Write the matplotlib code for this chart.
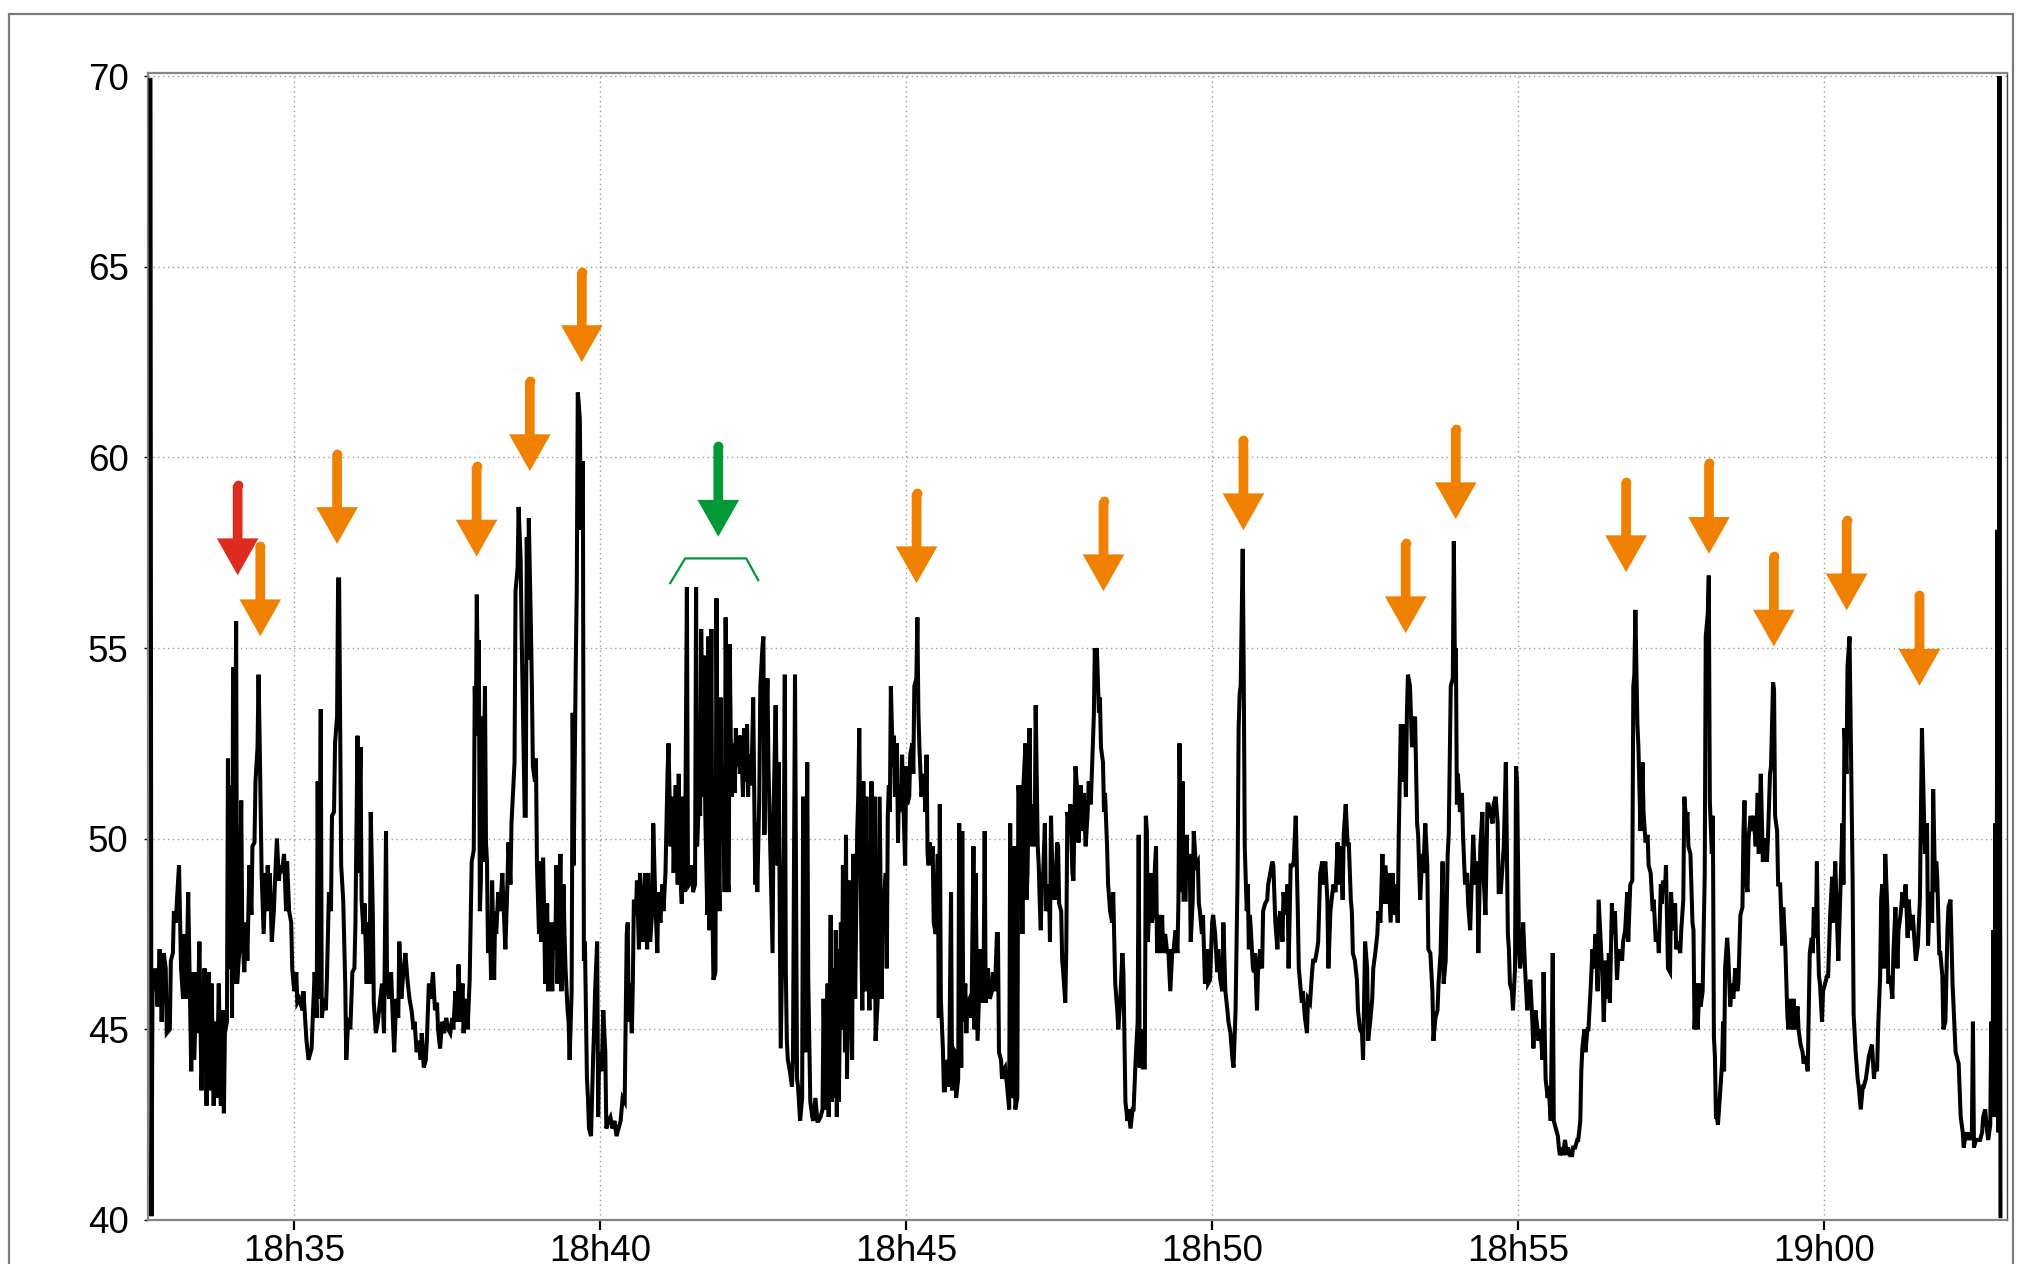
"""
Niveau sonore mesuré de 18h32 à 19h03, avec les pics repérés par des flèches.
"""

import matplotlib
matplotlib.use("Agg")
import matplotlib.pyplot as plt
import matplotlib.dates as mdates
from matplotlib.patches import Rectangle
from datetime import datetime

# relevés : (secondes après 18h30, niveau)
seg_a = [(159, 69.9), (160, 40.1), (161, 46.0), (164, 46.6), (166, 45.6), (168, 47.1), (170, 45.2), (172, 47.0),
         (174, 46.6), (175, 44.9), (178, 45.0), (179, 46.8), (181, 47.0), (182, 48.1), (184, 47.8), (185, 48.4),
         (187, 49.3), (189, 46.6), (191, 45.8), (192, 47.5), (194, 45.8), (196, 48.6), (197, 47.0), (199, 43.9),
         (200, 46.5), (202, 44.2), (204, 46.5), (205, 44.9), (207, 47.3), (209, 43.4), (211, 45.3), (212, 46.6),
         (214, 43.0), (216, 46.5), (217, 43.4), (219, 46.2), (221, 43.0), (222, 44.4), (223, 45.2), (224, 43.2),
         (226, 46.2), (228, 43.0), (230, 45.5), (231, 42.8), (232, 44.9), (234, 45.2), (235, 52.1), (236, 46.6),
         (238, 51.4), (239, 45.3), (240, 54.5), (241, 46.2), (243, 55.7), (244, 46.2), (246, 47.0), (248, 51.0),
         (249, 47.6), (251, 46.5), (253, 47.8), (254, 46.8), (256, 49.3), (258, 48.0), (259, 49.8), (261, 49.9),
         (262, 51.5), (264, 52.4), (265, 54.3), (266, 52.7), (268, 49.1), (269, 48.3), (270, 47.5), (272, 49.1),
         (273, 48.1), (274, 49.3), (275, 48.4), (276, 49.1), (278, 47.3), (280, 48.1), (281, 48.8), (283, 50.0),
         (285, 48.9), (286, 49.3), (288, 49.1), (290, 49.6), (292, 48.1), (293, 49.4), (295, 48.1), (297, 47.8),
         (298, 46.6), (300, 46.0), (302, 46.5), (303, 45.7), (305, 45.8), (308, 45.5), (309, 46.0), (312, 44.7),
         (314, 44.2), (317, 44.5), (318, 45.2), (320, 46.5), (322, 45.3), (323, 51.5), (324, 45.8), (326, 53.4),
         (327, 45.3), (329, 45.8), (331, 45.5), (332, 46.3), (334, 48.6), (336, 48.1), (337, 50.6), (339, 50.7),
         (340, 52.5), (342, 53.2), (343, 56.8), (344, 56.8), (346, 49.3), (348, 48.4), (350, 46.2), (351, 44.2),
         (353, 45.3), (355, 45.0), (357, 46.5), (359, 46.6), (360, 47.8), (362, 52.7), (363, 49.1), (365, 52.4),
         (366, 48.4), (368, 47.5), (369, 48.3), (371, 46.2), (372, 47.8), (374, 46.2), (375, 50.7), (377, 48.1),
         (378, 45.7), (380, 44.9), (382, 45.2), (384, 45.7), (386, 46.2), (388, 44.9), (390, 50.2), (391, 46.2),
         (393, 45.8), (395, 46.5), (396, 45.7), (398, 44.4), (400, 45.8), (402, 45.3), (403, 47.3), (405, 45.8),
         (407, 46.5), (409, 47.0), (411, 46.3), (413, 45.8), (415, 45.5), (417, 45.0), (418, 45.2), (420, 44.4),
         (422, 44.7), (424, 44.2), (425, 44.9), (427, 44.0), (429, 44.2), (430, 44.7), (432, 46.2), (434, 45.8),
         (436, 46.5), (438, 45.5), (440, 45.7), (441, 45.0), (443, 44.5), (445, 45.2), (447, 44.9), (449, 45.3),
         (451, 45.0)]

seg_b = [(453, 44.9), (455, 45.3), (456, 45.0), (458, 46.0), (460, 45.2), (461, 46.7), (463, 45.2), (465, 46.2),
         (466, 44.9), (468, 45.8), (470, 45.0), (472, 46.3), (474, 49.4), (476, 49.7), (477, 54.0), (478, 52.7),
         (479, 56.4), (480, 54.0), (481, 55.2), (482, 48.1), (483, 48.9), (484, 53.2), (485, 49.4), (487, 54.0),
         (488, 49.9), (489, 49.4), (490, 47.0), (492, 47.6), (493, 46.3), (494, 48.9), (496, 46.3), (497, 48.1),
         (498, 47.5), (500, 48.6), (502, 48.1), (504, 49.1), (505, 48.4), (507, 47.1), (509, 48.8), (510, 49.9),
         (512, 48.8), (513, 50.4), (515, 51.5), (516, 52.0), (517, 56.5), (519, 57.1), (520, 58.7), (522, 57.3),
         (523, 55.3), (524, 53.7), (526, 50.6), (527, 50.6), (528, 57.9), (529, 54.7), (530, 58.4), (532, 55.6),
         (533, 54.0), (534, 51.9), (536, 51.5), (537, 52.1), (538, 49.3), (540, 47.5), (541, 49.4), (542, 47.3),
         (544, 49.5), (545, 48.1), (546, 46.2), (548, 48.3), (549, 46.0), (550, 47.8), (552, 47.0), (553, 46.0),
         (554, 47.8), (556, 47.1), (557, 49.3), (558, 46.2), (560, 47.8), (561, 49.6), (562, 46.0), (564, 48.8),
         (565, 47.5), (566, 46.6), (568, 45.5), (569, 45.2), (570, 44.2), (572, 46.0), (573, 53.3), (574, 49.3),
         (576, 54.5), (577, 56.5), (578, 61.7), (579, 61.4), (580, 61.0), (581, 58.1), (583, 59.9), (584, 46.8),
         (585, 47.3), (587, 43.7), (588, 43.2), (589, 42.4), (591, 42.2), (593, 44.2), (594, 45.0), (595, 46.0),
         (597, 47.3), (598, 42.7), (599, 44.4), (601, 43.9), (602, 44.4), (603, 45.5), (605, 44.4), (606, 42.4),
         (608, 42.6), (610, 42.7), (612, 42.4), (614, 42.6), (616, 42.2), (618, 42.4), (620, 42.6), (622, 43.2),
         (624, 43.1), (626, 47.5), (627, 47.8), (628, 45.2), (629, 46.2), (631, 44.9), (632, 46.2), (633, 48.4),
         (635, 48.0), (636, 48.9), (638, 47.1), (639, 49.1), (641, 48.0), (642, 47.3), (644, 49.1), (646, 47.1),
         (647, 49.1), (649, 47.3), (651, 48.1), (652, 50.4), (654, 48.4), (656, 47.0), (657, 48.6), (659, 47.8),
         (661, 48.8), (662, 48.1), (664, 49.1), (666, 51.7), (667, 52.5), (669, 49.8), (671, 51.1), (672, 49.1),
         (674, 51.4), (676, 48.8), (677, 51.7), (678, 49.4), (680, 48.3), (681, 51.1), (683, 48.6), (685, 56.6),
         (686, 49.3), (687, 48.8), (689, 48.9), (690, 49.3), (691, 48.6), (693, 48.8), (694, 56.6), (695, 49.8),
         (697, 51.2), (698, 50.6), (699, 55.5), (701, 51.1), (702, 54.8), (703, 50.7), (705, 48.0), (706, 55.3),
         (707, 47.6), (709, 55.5), (710, 48.3), (711, 46.3), (713, 46.5), (714, 56.3), (715, 51.1), (717, 48.1),
         (718, 53.7), (719, 49.9), (721, 51.1), (722, 48.6), (723, 55.8), (725, 48.9), (726, 48.6), (727, 55.1),
         (728, 52.7), (729, 51.1), (730, 52.5), (732, 51.2), (733, 52.9), (734, 51.9), (736, 52.7), (737, 51.7),
         (738, 52.7), (740, 51.1), (741, 52.9), (742, 51.5), (744, 53.0), (745, 51.1), (746, 52.2), (748, 51.4),
         (749, 52.4), (750, 53.7), (752, 48.8), (753, 50.4), (754, 48.6), (756, 51.1)]

seg_c = [(757, 54.0), (759, 55.0), (760, 55.3), (761, 50.1), (762, 52.4), (764, 54.2), (765, 51.9), (767, 49.4),
         (769, 47.0), (770, 50.7), (772, 53.5), (774, 49.3), (775, 52.0), (777, 44.5), (779, 48.1), (780, 49.8),
         (781, 54.3), (782, 46.5), (783, 44.7), (784, 44.2), (786, 43.9), (788, 43.5), (789, 44.2), (791, 54.3),
         (793, 43.7), (794, 43.5), (796, 42.6), (798, 43.2), (799, 51.1), (801, 44.4), (803, 52.0), (804, 46.3),
         (806, 43.1), (808, 42.7), (809, 42.6), (811, 43.2), (813, 42.6), (814, 42.6), (816, 42.7), (818, 42.9),
         (819, 45.8), (821, 42.9), (823, 46.2), (824, 42.7), (826, 48.0), (827, 43.1), (829, 46.6), (830, 43.2),
         (831, 47.6), (832, 42.7), (833, 47.1), (834, 43.1), (836, 47.8), (837, 45.0), (838, 49.3), (840, 44.4),
         (841, 50.1), (842, 43.7), (844, 48.9), (845, 46.3), (847, 44.2), (848, 49.6), (850, 45.8), (852, 50.2),
         (853, 51.1), (854, 52.9), (856, 47.5), (857, 45.5), (858, 51.5), (860, 46.0), (861, 51.1), (862, 47.5),
         (864, 45.5), (865, 48.3), (866, 51.5), (868, 45.8), (869, 51.1), (870, 44.7), (872, 45.7), (873, 48.3),
         (874, 51.1), (876, 45.8), (877, 48.4), (878, 48.3), (880, 49.1), (881, 46.6), (882, 50.6), (883, 51.4),
         (884, 50.7), (885, 54.0), (887, 51.9), (888, 52.7), (889, 51.1), (891, 52.5), (892, 49.9), (893, 51.4),
         (895, 50.7), (896, 52.2), (897, 51.2), (899, 49.3), (900, 51.9), (901, 50.9), (903, 51.1), (904, 52.2),
         (906, 52.5), (907, 51.7), (908, 54.0), (910, 54.2), (911, 55.8), (912, 53.3), (913, 52.4), (915, 51.1),
         (916, 51.4), (917, 51.7), (919, 50.7), (920, 52.2), (921, 49.6), (922, 49.3), (923, 49.9), (925, 49.4),
         (926, 49.8), (927, 47.8), (929, 47.5), (931, 49.6), (932, 45.3), (933, 50.9), (934, 45.8), (936, 44.5),
         (937, 43.4), (938, 43.4), (940, 44.2), (942, 43.5), (944, 48.6), (945, 43.4), (946, 44.5), (948, 44.4),
         (949, 43.2), (951, 43.7), (952, 50.4), (954, 44.0), (955, 50.2), (956, 45.2), (958, 46.2), (959, 44.9),
         (960, 45.7), (962, 45.8), (964, 45.3), (966, 49.8), (967, 45.0), (968, 49.1), (970, 44.7), (972, 46.3),
         (973, 47.1), (974, 45.7), (976, 46.6), (977, 50.2), (978, 45.7), (980, 46.6), (981, 46.2), (982, 45.8),
         (984, 46.0), (985, 46.5), (987, 46.0), (989, 47.5), (990, 47.5), (991, 44.4), (993, 44.2), (994, 43.7),
         (995, 43.9), (997, 44.0), (999, 43.5), (1001, 42.9), (1002, 50.4), (1003, 43.5), (1005, 43.2),
         (1006, 49.8), (1007, 42.9), (1009, 43.2), (1010, 51.4), (1011, 51.1), (1013, 51.4), (1014, 47.5),
         (1015, 51.4), (1017, 52.5), (1018, 48.4), (1019, 49.1), (1021, 52.9), (1022, 49.8), (1023, 50.9),
         (1025, 50.1), (1026, 49.8), (1027, 53.5), (1029, 49.8), (1030, 49.3), (1031, 48.3), (1032, 47.6),
         (1033, 49.1), (1034, 48.8), (1036, 50.4), (1037, 48.1), (1038, 48.4), (1040, 48.8), (1041, 47.3),
         (1042, 50.6), (1044, 48.4), (1045, 49.1), (1046, 48.4), (1048, 49.9), (1049, 49.8), (1050, 48.3),
         (1052, 48.1), (1053, 46.8), (1054, 46.5), (1056, 45.7), (1057, 47.1), (1058, 50.7), (1060, 50.4)]

seg_d = [(1061, 50.9), (1063, 49.1), (1064, 48.9), (1066, 51.9), (1068, 51.2), (1069, 49.9), (1071, 51.4),
         (1073, 50.2), (1074, 51.2), (1076, 49.8), (1078, 50.7), (1079, 51.5), (1081, 50.9), (1083, 52.4),
         (1084, 53.2), (1085, 55.0), (1086, 54.0), (1087, 55.0), (1089, 53.3), (1090, 53.7), (1091, 52.4),
         (1093, 52.0), (1094, 50.7), (1095, 51.2), (1097, 49.8), (1098, 48.8), (1100, 48.1), (1102, 47.8),
         (1103, 48.6), (1105, 46.2), (1107, 45.5), (1108, 45.0), (1110, 45.8), (1112, 47.0), (1113, 46.5),
         (1115, 43.1), (1117, 42.6), (1118, 42.9), (1120, 42.4), (1122, 42.9), (1123, 42.9), (1125, 44.2),
         (1127, 45.2), (1128, 50.1), (1129, 44.0), (1131, 45.0), (1132, 44.0), (1134, 44.0), (1135, 50.6),
         (1136, 50.2), (1137, 47.3), (1138, 48.0), (1140, 49.1), (1141, 47.8), (1142, 48.0), (1144, 49.3),
         (1145, 49.8), (1146, 47.0), (1148, 48.0), (1149, 47.0), (1151, 48.0), (1152, 47.0), (1154, 47.5),
         (1156, 47.0), (1157, 47.1), (1159, 46.0), (1161, 47.1), (1162, 47.0), (1164, 47.6), (1166, 47.0),
         (1167, 48.4), (1168, 52.5), (1170, 48.6), (1171, 51.5), (1172, 48.4), (1174, 48.4), (1175, 50.1),
         (1176, 48.9), (1178, 49.6), (1179, 47.3), (1181, 48.4), (1182, 50.2), (1184, 49.3), (1186, 49.4),
         (1187, 48.3), (1188, 48.1), (1190, 47.5), (1191, 48.0), (1193, 46.2), (1195, 47.1), (1196, 46.2),
         (1198, 46.3), (1200, 47.8), (1201, 48.0), (1203, 47.5), (1205, 46.5), (1206, 47.1), (1208, 46.3),
         (1210, 46.0), (1211, 47.8), (1213, 46.0), (1215, 45.5), (1216, 45.2), (1218, 44.9), (1220, 44.2),
         (1221, 44.0), (1223, 45.5), (1225, 49.1), (1226, 52.9), (1227, 53.8), (1228, 54.0), (1230, 57.6),
         (1231, 54.3), (1232, 49.8), (1233, 48.9), (1234, 48.1), (1235, 48.8), (1236, 47.1), (1237, 48.0),
         (1238, 47.6), (1240, 46.6), (1241, 46.5), (1242, 47.0), (1244, 45.5), (1245, 46.5), (1247, 47.1),
         (1249, 46.6), (1250, 48.1), (1252, 48.3), (1254, 48.4), (1255, 48.8), (1257, 49.1), (1259, 49.4),
         (1260, 49.3), (1262, 47.8), (1264, 47.1), (1265, 47.8), (1267, 48.1), (1269, 47.3), (1270, 48.6),
         (1272, 48.0), (1274, 48.8), (1275, 46.6), (1277, 49.3), (1279, 49.3), (1280, 49.4), (1282, 50.6),
         (1284, 48.1), (1285, 46.6), (1286, 46.3), (1288, 45.7), (1289, 46.0), (1291, 45.3), (1293, 44.9),
         (1294, 45.8), (1296, 45.7), (1298, 46.5), (1299, 46.8), (1301, 46.8), (1303, 47.1), (1304, 47.3),
         (1306, 49.1), (1308, 49.4), (1309, 48.8), (1311, 49.4), (1313, 48.4), (1314, 46.6), (1316, 48.1),
         (1318, 48.6), (1319, 48.8), (1321, 48.6), (1323, 49.9), (1324, 48.8), (1326, 49.8), (1328, 48.4),
         (1329, 50.1), (1331, 50.9), (1333, 49.8), (1334, 49.9), (1336, 48.4), (1337, 48.1), (1338, 47.0),
         (1340, 46.8), (1342, 46.3), (1343, 45.5), (1345, 45.0), (1347, 44.9), (1348, 44.2), (1350, 47.3),
         (1352, 46.6), (1353, 44.7), (1355, 45.2), (1357, 45.8), (1358, 46.6), (1360, 47.0), (1362, 47.5),
         (1363, 48.1)]

seg_e = [(1365, 47.8), (1367, 49.6), (1368, 48.3), (1370, 49.3), (1372, 48.3), (1373, 49.1), (1375, 47.8),
         (1377, 49.1), (1378, 48.0), (1380, 48.8), (1382, 47.8), (1383, 50.1), (1385, 53.0), (1387, 51.5),
         (1388, 53.0), (1390, 51.1), (1391, 53.3), (1392, 54.3), (1394, 54.0), (1396, 52.4), (1397, 52.9),
         (1399, 53.2), (1401, 50.4), (1402, 50.1), (1404, 48.4), (1406, 49.6), (1407, 49.1), (1409, 50.4),
         (1411, 49.3), (1412, 47.1), (1414, 47.0), (1416, 46.0), (1417, 44.7), (1419, 45.3), (1421, 45.5),
         (1422, 46.2), (1424, 47.0), (1426, 49.4), (1427, 46.2), (1429, 46.8), (1431, 49.6), (1432, 50.1),
         (1434, 54.0), (1436, 54.2), (1437, 57.8), (1438, 54.7), (1439, 55.0), (1440, 50.9), (1441, 51.7),
         (1443, 50.7), (1445, 51.2), (1446, 50.1), (1448, 48.8), (1450, 49.1), (1451, 48.3), (1453, 47.6),
         (1455, 49.3), (1456, 50.1), (1458, 48.8), (1460, 49.4), (1461, 47.0), (1463, 49.8), (1465, 50.7),
         (1466, 49.1), (1468, 48.0), (1470, 50.9), (1471, 50.9), (1473, 50.7), (1475, 50.4), (1476, 50.9),
         (1478, 51.1), (1480, 50.4), (1481, 48.6), (1483, 48.6), (1485, 49.4), (1486, 49.8), (1488, 52.0),
         (1489, 49.8), (1490, 47.5), (1491, 47.1), (1492, 46.2), (1494, 46.0), (1495, 45.5), (1497, 46.6),
         (1498, 51.9), (1499, 51.5), (1501, 47.0), (1502, 46.6), (1504, 47.1), (1505, 47.8), (1507, 46.5),
         (1509, 45.5), (1510, 46.0), (1512, 46.3), (1514, 45.2), (1515, 44.5), (1517, 45.5), (1519, 45.0),
         (1520, 44.7), (1522, 45.0), (1524, 44.2), (1525, 46.5), (1527, 43.7), (1529, 43.2), (1530, 43.5),
         (1532, 42.6), (1534, 47.0), (1535, 42.6), (1537, 42.4), (1539, 42.2), (1540, 41.9), (1541, 41.7),
         (1543, 41.9), (1544, 41.7), (1546, 42.1), (1548, 41.7), (1549, 41.9), (1551, 41.7), (1553, 41.7),
         (1554, 41.9), (1556, 41.9), (1558, 42.1), (1559, 42.1), (1561, 42.6), (1562, 43.9), (1563, 44.5),
         (1565, 45.0), (1566, 44.4), (1568, 45.0), (1569, 45.0), (1571, 46.0), (1573, 47.1), (1574, 46.6),
         (1576, 47.5), (1578, 46.0), (1579, 48.4), (1581, 47.3), (1583, 46.2), (1584, 45.2), (1586, 46.8),
         (1588, 45.8), (1589, 47.0), (1590, 45.7), (1592, 48.3), (1593, 47.5), (1595, 48.1), (1597, 46.3),
         (1598, 46.8), (1600, 47.1), (1602, 46.8), (1603, 47.3), (1605, 47.6), (1607, 48.6), (1608, 47.3),
         (1610, 48.8), (1612, 48.9), (1613, 54.0), (1614, 54.3), (1615, 56.0), (1617, 53.0), (1618, 52.4),
         (1620, 50.2), (1622, 52.0), (1623, 50.7), (1625, 49.9), (1627, 50.1), (1628, 49.3), (1630, 49.1),
         (1632, 48.1), (1633, 48.4), (1635, 47.3), (1637, 47.5), (1638, 47.0), (1640, 48.8), (1641, 48.3),
         (1642, 48.9), (1644, 48.6), (1645, 49.3), (1647, 46.6), (1649, 46.5), (1650, 48.6), (1652, 47.6),
         (1654, 48.3), (1655, 47.1), (1657, 47.3), (1659, 47.0), (1660, 47.6), (1662, 48.4), (1663, 51.1),
         (1665, 50.4), (1666, 50.7), (1667, 49.8)]

seg_f = [(1669, 49.6), (1671, 47.8), (1672, 47.6), (1673, 45.0), (1675, 46.2), (1676, 45.0), (1678, 46.2),
         (1679, 45.6), (1681, 46.0), (1682, 47.6), (1683, 49.0), (1684, 55.3), (1686, 55.9), (1687, 56.9),
         (1688, 51.0), (1690, 49.6), (1691, 50.6), (1692, 44.8), (1693, 44.3), (1694, 42.7), (1695, 42.7),
         (1696, 42.5), (1698, 43.3), (1700, 44.1), (1701, 45.2), (1702, 43.9), (1703, 46.6), (1705, 47.4),
         (1706, 47.0), (1708, 45.6), (1710, 46.2), (1711, 45.8), (1713, 46.6), (1715, 46.0), (1716, 46.2),
         (1718, 48.0), (1720, 48.2), (1721, 50.2), (1722, 51.0), (1723, 49.0), (1725, 48.6), (1726, 50.0),
         (1728, 50.6), (1730, 50.2), (1731, 50.6), (1733, 49.8), (1735, 51.2), (1736, 49.6), (1738, 51.7),
         (1740, 49.4), (1741, 50.0), (1743, 49.8), (1744, 49.4), (1745, 50.0), (1747, 51.7), (1748, 51.9),
         (1750, 54.1), (1751, 53.9), (1752, 50.6), (1754, 50.2), (1755, 48.8), (1757, 48.8), (1759, 47.2),
         (1760, 48.2), (1762, 47.2), (1764, 45.4), (1765, 45.0), (1767, 45.8), (1769, 45.0), (1770, 45.8),
         (1772, 45.0), (1774, 45.6), (1775, 45.0), (1777, 44.6), (1779, 44.4), (1780, 44.1), (1782, 44.3),
         (1784, 43.9), (1785, 45.4), (1786, 47.0), (1788, 47.4), (1789, 47.0), (1790, 48.2), (1792, 47.4),
         (1793, 49.4), (1794, 47.4), (1795, 46.4), (1796, 46.2), (1798, 45.2), (1799, 46.0), (1801, 46.2),
         (1803, 46.4), (1804, 46.4), (1806, 48.0), (1808, 49.0), (1809, 47.8), (1811, 49.4), (1813, 47.6),
         (1814, 46.8), (1816, 48.6), (1818, 50.4), (1819, 48.8), (1820, 52.9), (1822, 51.7), (1823, 54.5),
         (1824, 54.9), (1825, 55.3), (1827, 51.0), (1828, 49.0), (1829, 45.4), (1831, 44.4), (1833, 43.7),
         (1834, 43.5), (1836, 42.9), (1838, 43.5), (1839, 43.5), (1841, 43.7), (1843, 44.1), (1844, 44.3),
         (1845, 44.4), (1847, 44.6), (1849, 43.7), (1850, 44.1), (1852, 43.9), (1853, 45.0), (1855, 46.4),
         (1856, 48.4), (1857, 48.8), (1859, 46.6), (1860, 49.6), (1862, 48.2), (1863, 46.2), (1865, 46.4),
         (1867, 45.8), (1868, 47.0), (1870, 48.2), (1872, 46.6), (1873, 47.6), (1875, 48.0), (1877, 48.6),
         (1878, 48.2), (1880, 48.8), (1882, 47.4), (1883, 48.4), (1885, 47.6), (1887, 48.0), (1888, 47.6),
         (1890, 46.8), (1892, 47.2), (1893, 47.8), (1894, 48.4), (1895, 50.6), (1896, 52.9), (1898, 50.6),
         (1899, 49.6), (1901, 50.4), (1902, 47.2), (1903, 48.0), (1905, 48.6), (1906, 47.8), (1907, 51.3),
         (1909, 48.6), (1910, 49.4), (1911, 49.0), (1913, 47.0), (1914, 47.0), (1916, 46.4), (1917, 45.0),
         (1919, 45.2), (1921, 47.6), (1922, 48.2), (1924, 48.4), (1926, 46.2), (1927, 45.6), (1929, 44.4),
         (1931, 44.2), (1932, 44.1), (1934, 42.7), (1936, 42.3), (1937, 41.9), (1939, 42.3), (1941, 42.1),
         (1942, 42.3), (1944, 42.1), (1945, 42.3), (1946, 45.2), (1947, 41.9), (1949, 42.1), (1951, 42.1),
         (1953, 42.1), (1955, 42.3), (1956, 42.7), (1958, 42.9), (1960, 42.3), (1961, 42.1), (1963, 42.5),
         (1964, 45.2), (1965, 42.7), (1966, 47.6), (1967, 43.5), (1968, 50.4), (1969, 42.7), (1970, 58.1),
         (1971, 42.3), (1972, 70.0), (1973, 40.1)]

# flèches : pointe (secondes après 18h30, niveau)
orange_sec = [266.7, 342.0, 478.8, 531.0, 582.0, 910.2, 1093.5, 1230.7, 1389.8, 1438.9,
              1605.9, 1687.2, 1750.8, 1822.2, 1893.6]
orange_tip = [55.31, 57.73, 57.40, 59.64, 62.50, 56.70, 56.49, 58.09, 55.39, 58.38,
              56.99, 57.47, 55.04, 55.99, 54.01]
red_sec, red_tip = [244.5], [56.91]
green_sec, green_tip = [715.8], [57.92]
bracket_sec = [668.6, 683.3, 743.2, 754.9]
bracket_lvl = [56.70, 57.35, 57.35, 56.78]

y_ticks = [40, 45, 50, 55, 60, 65, 70]
t0 = datetime(2024, 1, 1, 18, 30)
x_range = (156.6, 1979.4)
ARROW_LEN = 2.37

ORANGE = "#F08000"
RED = "#DD2C1F"
GREEN = "#009933"


def to_x(sec):
    return mdates.date2num(t0) + sec / 86400.0


def draw_arrow(ax, sec, tip, color):
    x = to_x(sec)
    ax.annotate("", xy=(x, tip), xytext=(x, tip + ARROW_LEN),
                arrowprops=dict(arrowstyle="simple,head_length=26.5,head_width=30,tail_width=7",
                                mutation_scale=1, fc=color, ec="none", shrinkA=0, shrinkB=0),
                zorder=5)
    ax.plot(x, tip + ARROW_LEN, "o", ms=7, color=color, mec="none", zorder=5)


plt.rcParams["font.family"] = ["Liberation Sans", "DejaVu Sans"]

fig = plt.figure(figsize=(20.23, 12.64), dpi=100)
ax = fig.add_axes([148 / 2023, 1 - 1220 / 1264, (2007 - 148) / 2023, (1220 - 73) / 1264])

# cadre extérieur
fig.add_artist(Rectangle((9 / 2023, -0.05), (2013 - 9) / 2023, 1.05 - 14 / 1264,
                         transform=fig.transFigure, fill=False, ec="#7a7a7a", lw=1.6))

sec_all, lvl_all = [], []
for seg in (seg_a, seg_b, seg_c, seg_d, seg_e, seg_f):
    for s, v in seg:
        sec_all.append(s)
        lvl_all.append(v)

ax.plot([to_x(s) for s in sec_all], lvl_all, color="black", lw=2.9, zorder=3,
        solid_joinstyle="miter")

for s, tip in zip(orange_sec, orange_tip):
    draw_arrow(ax, s, tip, ORANGE)
for s, tip in zip(red_sec, red_tip):
    draw_arrow(ax, s, tip, RED)
for s, tip in zip(green_sec, green_tip):
    draw_arrow(ax, s, tip, GREEN)
ax.plot([to_x(s) for s in bracket_sec], bracket_lvl, color=GREEN, lw=1.6, zorder=4)

ax.set_xlim(to_x(x_range[0]), to_x(x_range[1]))
ax.set_ylim(40, 70.08)
ax.set_yticks(y_ticks)
ax.set_yticklabels([str(v) for v in y_ticks])
ax.xaxis.set_major_locator(mdates.MinuteLocator(byminute=range(0, 60, 5)))
ax.xaxis.set_major_formatter(mdates.DateFormatter("%Hh%M"))

ax.grid(True, linestyle=(0, (1, 2.5)), color="#9a9a9a", lw=1.0)
ax.tick_params(axis="x", length=7, width=1.6, direction="out", pad=3, labelsize=26.5, color="black")
ax.tick_params(axis="y", length=3, width=1.0, direction="out", pad=11, labelsize=26.5, color="black")

for side in ("top", "bottom", "left"):
    ax.spines[side].set_color("#858585")
    ax.spines[side].set_linewidth(1.6)
ax.spines["right"].set_color("#444444")
ax.spines["right"].set_linewidth(1.0)

fig.savefig("out.png", dpi=100)
